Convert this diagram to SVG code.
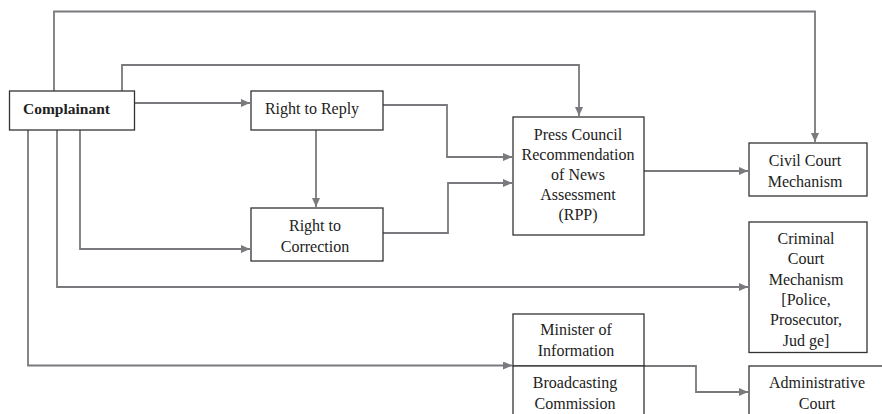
<svg xmlns="http://www.w3.org/2000/svg" width="882" height="414" viewBox="0 0 882 414">
<style>
.box{fill:#fff;stroke:#333;stroke-width:1.3}
.t{font-family:'Liberation Serif','DejaVu Serif',serif;font-size:16px;fill:#222;text-anchor:middle}
.b{font-weight:bold;font-size:15.5px;text-anchor:start}
.c{fill:none;stroke:#7a7a7e;stroke-width:1.8}
</style>
<defs>
<marker id="ah" markerUnits="userSpaceOnUse" markerWidth="10" markerHeight="9" refX="9" refY="4" orient="auto">
<path d="M0,0 L9,4 L0,8 z" fill="#7a7a7e"/>
</marker>
</defs>
<rect width="882" height="414" fill="#fff"/>
<g id="connectors">
<path class="c" d="M54,91 V11.5 H815 V142" marker-end="url(#ah)"/>
<path class="c" d="M122,91 V65 H579 V116" marker-end="url(#ah)"/>
<path class="c" d="M134,103 H250" marker-end="url(#ah)"/>
<path class="c" d="M316,130 V207" marker-end="url(#ah)"/>
<path class="c" d="M383,105 H447 V157 H512" marker-end="url(#ah)"/>
<path class="c" d="M383,233 H448 V183 H512" marker-end="url(#ah)"/>
<path class="c" d="M644,171 H748" marker-end="url(#ah)"/>
<path class="c" d="M80,130 V249 H250" marker-end="url(#ah)"/>
<path class="c" d="M57,130 V287 H748" marker-end="url(#ah)"/>
<path class="c" d="M28,130 V365.5 H512" marker-end="url(#ah)"/>
<path class="c" d="M644,366 H696 V392 H748" marker-end="url(#ah)"/>
</g>
<g font-family="Liberation Serif, serif">
<g id="complainant">
<rect class="box" x="9.5" y="91" width="125" height="39"/>
<text class="t b" x="23" y="113.5">Complainant</text>
</g>
<g id="right-to-reply">
<rect class="box" x="251" y="91" width="132" height="39"/>
<text class="t" x="312" y="113.5">Right to Reply</text>
</g>
<g id="right-to-correction">
<rect class="box" x="251" y="208" width="132" height="53"/>
<text class="t" x="315" y="230.5">Right to</text>
<text class="t" x="315" y="251.5">Correction</text>
</g>
<g id="press-council">
<rect class="box" x="513" y="117" width="131" height="118"/>
<text class="t" x="578" y="140">Press Council</text>
<text class="t" x="578" y="160">Recommendation</text>
<text class="t" x="578" y="180">of News</text>
<text class="t" x="578" y="200">Assessment</text>
<text class="t" x="578" y="220">(RPP)</text>
</g>
<g id="civil-court">
<rect class="box" x="749" y="143" width="118" height="53"/>
<text class="t" x="805" y="166">Civil Court</text>
<text class="t" x="805" y="187">Mechanism</text>
</g>
<g id="criminal-court">
<rect class="box" x="749" y="222" width="118" height="130.5"/>
<text class="t" x="806" y="243.5">Criminal</text>
<text class="t" x="806" y="264">Court</text>
<text class="t" x="806" y="284.5">Mechanism</text>
<text class="t" x="806" y="305">[Police,</text>
<text class="t" x="806" y="325">Prosecutor,</text>
<text class="t" x="806" y="345.5">Jud ge]</text>
</g>
<g id="minister">
<rect class="box" x="513" y="314" width="131" height="52"/>
<text class="t" x="576" y="335">Minister of</text>
<text class="t" x="576" y="356">Information</text>
</g>
<g id="broadcasting">
<rect class="box" x="513" y="366" width="131" height="60"/>
<text class="t" x="575" y="388">Broadcasting</text>
<text class="t" x="575" y="408.5">Commission</text>
</g>
<g id="administrative-court">
<rect class="box" x="749" y="366" width="140" height="60"/>
<text class="t" x="817" y="388">Administrative</text>
<text class="t" x="817" y="408.5">Court</text>
</g>
</g>
</svg>
